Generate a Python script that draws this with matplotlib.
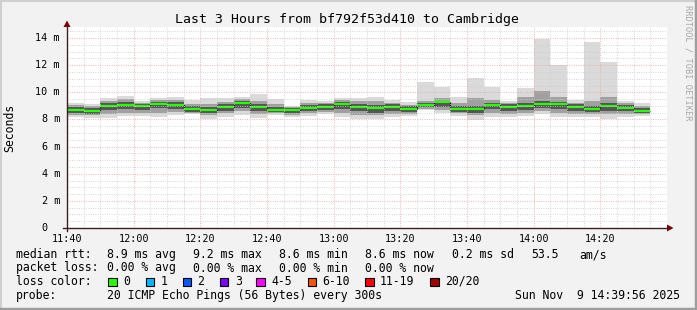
import numpy as np
import matplotlib

matplotlib.use("Agg")
import matplotlib.pyplot as plt
from matplotlib.patches import Rectangle, Polygon
from matplotlib.lines import Line2D

# ---- data (5 minute steps starting 11:40) ----
step_min = 5
median = [8.70, 8.65, 8.99, 9.09, 8.99, 9.14, 9.06, 8.77, 8.70, 8.94, 9.24, 8.94,
          8.70, 8.70, 8.87, 8.94, 9.14, 8.94, 8.82, 8.94, 8.77, 9.09, 9.26, 8.77,
          8.77, 9.06, 8.92, 8.99, 9.11, 9.11, 8.92, 8.77, 8.99, 8.84, 8.65]
outer_hi = [9.22, 9.12, 9.57, 9.75, 9.40, 9.58, 9.66, 9.44, 9.55, 9.58, 9.63, 9.87,
            9.54, 9.00, 9.45, 9.38, 9.58, 9.58, 9.63, 9.46, 9.29, 10.78, 10.41, 9.66,
            11.03, 10.41, 9.36, 10.31, 13.93, 12.03, 9.43, 13.70, 12.24, 9.36, 9.19]
outer_lo = [8.18, 8.12, 8.09, 8.24, 8.29, 8.18, 8.35, 8.40, 8.00, 8.16, 8.31, 8.08,
            8.31, 8.16, 8.25, 8.42, 8.16, 8.06, 8.06, 8.16, 8.23, 8.68, 8.49, 8.24,
            7.98, 8.20, 8.20, 8.28, 8.38, 8.20, 8.20, 8.20, 8.03, 8.20, 8.28]
mid_hi = [9.05, 9.00, 9.35, 9.50, 9.25, 9.45, 9.45, 9.15, 9.15, 9.30, 9.50, 9.40,
          9.15, 8.95, 9.20, 9.20, 9.45, 9.35, 9.35, 9.25, 9.10, 9.35, 9.55, 9.20,
          9.55, 9.45, 9.20, 9.65, 10.10, 9.65, 9.25, 9.35, 9.65, 9.20, 9.00]
mid_lo = [8.35, 8.30, 8.40, 8.50, 8.50, 8.50, 8.55, 8.50, 8.30, 8.45, 8.60, 8.40,
          8.45, 8.35, 8.45, 8.55, 8.45, 8.35, 8.30, 8.40, 8.40, 8.80, 8.70, 8.45,
          8.30, 8.50, 8.40, 8.50, 8.60, 8.45, 8.40, 8.40, 8.40, 8.40, 8.40]
inner_hi = [8.92, 8.87, 9.19, 9.29, 9.17, 9.32, 9.27, 8.97, 8.95, 9.15, 9.37, 9.17,
            8.92, 8.87, 9.07, 9.12, 9.32, 9.15, 9.05, 9.12, 8.97, 9.22, 9.39, 8.99,
            9.02, 9.25, 9.12, 9.22, 9.35, 9.32, 9.12, 9.02, 9.19, 9.07, 8.87]
inner_lo = [8.48, 8.43, 8.68, 8.78, 8.71, 8.83, 8.78, 8.58, 8.48, 8.65, 8.88, 8.63,
            8.55, 8.48, 8.63, 8.71, 8.78, 8.63, 8.51, 8.65, 8.55, 8.91, 8.93, 8.55,
            8.48, 8.75, 8.63, 8.73, 8.83, 8.75, 8.63, 8.53, 8.65, 8.61, 8.51]

xtick_labels = ["11:40", "12:00", "12:20", "12:40", "13:00", "13:20", "13:40", "14:00", "14:20"]
ytick_vals = [0, 2, 4, 6, 8, 10, 12, 14]

loss_labels = ["0", "1", "2", "3", "4-5", "6-10", "11-19", "20/20"]
loss_colors = ["#26ff00", "#00b8ff", "#0059ff", "#7e00ff", "#ff00ff", "#ff5500", "#ff0000", "#a10000"]

MONO = "DejaVu Sans Mono"
W, H = 697, 310


def fx(x):
    return x / W


def fy(y):
    return 1 - y / H


fig = plt.figure(figsize=(W / 100, H / 100), dpi=100, facecolor="#f2f2f2")

# rrdtool style frame shading
fig.add_artist(Line2D([0, 1], [fy(0.5), fy(0.5)], color="#cfcfcf", lw=1.5))
fig.add_artist(Line2D([fx(0.5), fx(0.5)], [0, 1], color="#cfcfcf", lw=1.5))
fig.add_artist(Line2D([0, 1], [fy(309), fy(309)], color="#9e9e9e", lw=2.5))
fig.add_artist(Line2D([fx(696), fx(696)], [0, 1], color="#9e9e9e", lw=2.5))

ax = fig.add_axes([fx(67), fy(228), 600 / W, 201 / H])
ax.set_facecolor("white")
ax.set_xlim(0, 180)
ax.set_ylim(0, 14.82)
for s in ax.spines.values():
    s.set_visible(False)

n = len(median)
starts = np.arange(n) * step_min

# smoke
ax.bar(starts, np.subtract(outer_hi, outer_lo), bottom=outer_lo, width=step_min,
       align="edge", color="#dadada", lw=0, zorder=2)
ax.bar(starts, np.subtract(mid_hi, mid_lo), bottom=mid_lo, width=step_min,
       align="edge", color="#a0a0a0", lw=0, zorder=2)
ax.bar(starts, np.subtract(inner_hi, inner_lo), bottom=inner_lo, width=step_min,
       align="edge", color="#555555", lw=0, zorder=2)

# median line
edges = np.append(starts, starts[-1] + step_min)
ax.step(edges, np.append(median, median[-1]), where="post", color="black", lw=0.8, zorder=3)
ax.hlines(median, starts, starts + step_min, color=loss_colors[0], lw=1.6, zorder=4)

# grid (on top, like rrdtool)
dots = (0, (0.8, 1.6))
for m in np.arange(5, 180, 5):
    col = "#f2a0a0" if m % 20 == 0 else "#cccccc"
    ax.axvline(m, color=col, lw=0.7, ls=dots, zorder=5)
for v in np.arange(0.5, 14.82, 0.5):
    col = "#f2a0a0" if v % 2 == 0 else "#cccccc"
    ax.axhline(v, color=col, lw=0.7, ls=dots, zorder=5)

ax.set_xticks(np.arange(0, 180, 20))
ax.set_xticklabels(xtick_labels, family=MONO, fontsize=7.3)
ax.tick_params(axis="x", length=0, pad=4)
ax.set_yticks([])

ytr = ax.get_yaxis_transform()
for v in ytick_vals:
    if v == 0:
        ax.text(-0.032, v, "0", transform=ytr, ha="right", va="center",
                family=MONO, fontsize=7.3)
    else:
        ax.text(-0.0117, v, f"{v} m", transform=ytr, ha="right", va="center",
                family=MONO, fontsize=7.3)

# axes lines with arrows
axis_col = "#3b2020"
fig.add_artist(Line2D([fx(67), fx(67)], [fy(231), fy(26)], color=axis_col, lw=1.0))
fig.add_artist(Line2D([fx(63), fx(668)], [fy(228), fy(228)], color=axis_col, lw=1.0))
fig.add_artist(Polygon([[fx(63.5), fy(27)], [fx(70.5), fy(27)], [fx(67), fy(20.5)]],
                       closed=True, color="#7f0000", lw=0))
fig.add_artist(Polygon([[fx(667), fy(224.5)], [fx(667), fy(231.5)], [fx(673.5), fy(228)]],
                       closed=True, color="#7f0000", lw=0))

# titles
fig.text(fx(347), fy(19), "Last 3 Hours from bf792f53d410 to Cambridge",
         ha="center", va="center", family=MONO, fontsize=9.5)
fig.text(fx(10), fy(128), "Seconds", rotation=90, ha="center", va="center",
         family=MONO, fontsize=8.3)
fig.text(fx(688), fy(5), "RRDTOOL / TOBI OETIKER", rotation=270, ha="center", va="top",
         family=MONO, fontsize=6.2, color="#a8a8a8")

# legend rows
fs = 8.3
row1 = [(16, "median rtt:"), (107, "8.9 ms avg"), (193, "9.2 ms max"), (279, "8.6 ms min"),
        (365, "8.6 ms now"), (452, "0.2 ms sd"), (531, "53.5"), (579, "am/s")]
row2 = [(16, "packet loss:"), (107, "0.00 % avg"), (193, "0.00 % max"), (279, "0.00 % min"),
        (365, "0.00 % now")]
for x, s in row1:
    fig.text(fx(x), fy(258), s, ha="left", va="baseline", family=MONO, fontsize=fs)
for x, s in row2:
    fig.text(fx(x), fy(271.5), s, ha="left", va="baseline", family=MONO, fontsize=fs)

fig.text(fx(16), fy(285), "loss color:", ha="left", va="baseline", family=MONO, fontsize=fs)
box_x = [108, 145.5, 182.5, 220, 256, 307.5, 365, 430]
for bx, lab, c in zip(box_x, loss_labels, loss_colors):
    fig.add_artist(Rectangle((fx(bx), fy(286)), 8.5 / W, 8.5 / H, facecolor=c,
                             edgecolor="black", lw=0.8))
    fig.text(fx(bx + 15), fy(285), lab, ha="left", va="baseline", family=MONO, fontsize=fs)

fig.text(fx(16), fy(299), "probe:", ha="left", va="baseline", family=MONO, fontsize=fs)
fig.text(fx(107), fy(299), "20 ICMP Echo Pings (56 Bytes) every 300s", ha="left",
         va="baseline", family=MONO, fontsize=fs)
fig.text(fx(680), fy(299), "Sun Nov  9 14:39:56 2025", ha="right", va="baseline",
         family=MONO, fontsize=fs)

fig.savefig("out.png", dpi=100, facecolor=fig.get_facecolor())
